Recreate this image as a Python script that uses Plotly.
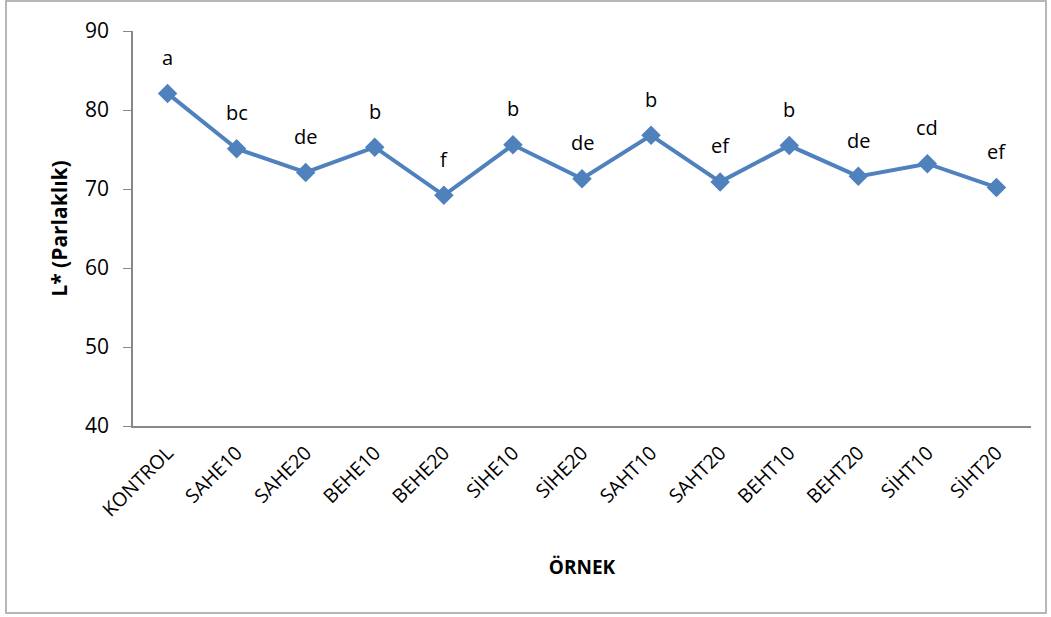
import plotly.graph_objects as go

categories = ["KONTROL", "SAHE10", "SAHE20", "BEHE10", "BEHE20", "SİHE10", "SİHE20",
              "SAHT10", "SAHT20", "BEHT10", "BEHT20", "SİHT10", "SİHT20"]
values = [82.1, 75.1, 72.1, 75.3, 69.2, 75.6, 71.3, 76.8, 70.9, 75.5, 71.6, 73.2, 70.2]
letters = ["a", "bc", "de", "b", "f", "b", "de", "b", "ef", "b", "de", "cd", "ef"]
y_ticks = [40, 50, 60, 70, 80, 90]

FONT = "'Open Sans', sans-serif"
BLUE = "#4F81BD"

fig = go.Figure()
fig.add_trace(go.Scatter(
    x=categories, y=values, mode="lines+markers",
    line=dict(color=BLUE, width=4),
    marker=dict(symbol="diamond", size=15, color=BLUE),
    showlegend=False, hoverinfo="skip",
))

for c, v, t in zip(categories, values, letters):
    fig.add_annotation(x=c, y=v, text=t, showarrow=False, yshift=36,
                       font=dict(family=FONT, size=20, color="black"))

L, R, T, B = 133, 20, 31, 191
W, H = 1051, 617
pw = W - L - R
ph = H - T - B
fig.add_shape(type="rect", xref="paper", yref="paper",
              x0=(6 - L) / pw, x1=(1046 - L) / pw,
              y0=(T + ph - 613) / ph, y1=(T + ph - 1) / ph,
              line=dict(color="#A0A0A0", width=1.5), fillcolor="rgba(0,0,0,0)")

fig.update_layout(
    width=W, height=H,
    margin=dict(l=L, r=R, t=T, b=B),
    paper_bgcolor="white", plot_bgcolor="white",
    font=dict(family=FONT, size=20, color="black"),
    xaxis=dict(
        type="category", tickangle=-45, showline=True, linecolor="#888888", linewidth=1.5,
        ticks="", showgrid=False, range=[-0.5, len(categories) - 0.5],
        tickfont=dict(family=FONT, size=19.5), ticklabelstandoff=6,
        title=dict(text="<b>ÖRNEK</b>", font=dict(family=FONT, size=19), standoff=40),
    ),
    yaxis=dict(
        range=[40, 90], tickvals=y_ticks, showline=True, linecolor="#888888", linewidth=1.5,
        ticks="outside", ticklen=8, tickcolor="#888888", showgrid=False, zeroline=False,
        tickfont=dict(family=FONT, size=21), ticklabelstandoff=10,
        title=dict(text="<b>L* (Parlaklık)</b>", font=dict(family=FONT, size=21), standoff=12),
    ),
)

fig.write_html("out.html", config={"displayModeBar": False},
               post_script="document.body.style.margin='0';document.body.style.overflow='hidden';")
